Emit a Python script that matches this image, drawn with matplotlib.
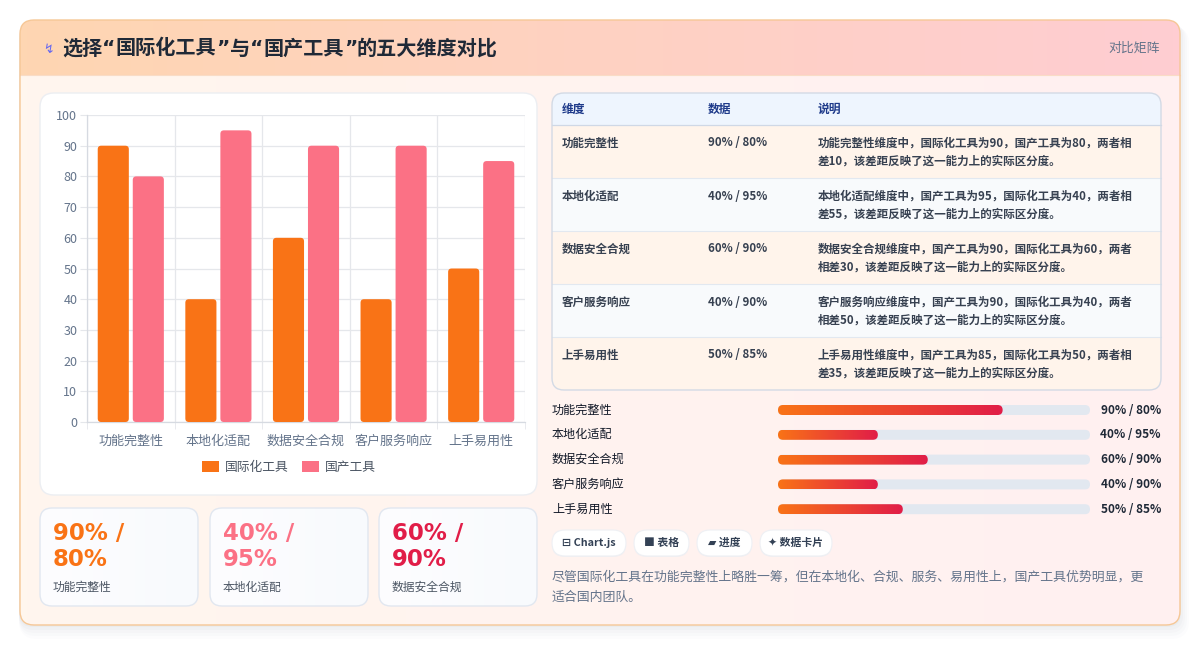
import numpy as np
import matplotlib.pyplot as plt
from matplotlib.patches import FancyBboxPatch, Rectangle
from matplotlib.colors import LinearSegmentedColormap

plt.rcParams['font.family'] = ['Noto Sans CJK SC', 'DejaVu Sans']

# 数据
dims = ['功能完整性', '本地化适配', '数据安全合规', '客户服务响应', '上手易用性']
intl = [90, 40, 60, 40, 50]
local = [80, 95, 90, 90, 85]
series_names = ['国际化工具', '国产工具']
progress = [72, 32, 48, 32, 40]   # 进度条填充(%)
y_ticks = list(range(0, 101, 10))
title_parts = ['选择', '“', '国际化工具', '”', '与', '“', '国产工具', '”', '的五大维度对比']
badge = '对比矩阵'
table_head = ['维度', '数据', '说明']
tags = ['⊟ Chart.js', '■ 表格', '▰ 进度', '✦ 数据卡片']
summary = '尽管国际化工具在功能完整性上略胜一筹，但在本地化、合规、服务、易用性上，国产工具优势明显，更适合国内团队。'

c_orange = '#f97316'
c_pink = '#fb7185'
c_red = '#e11d48'

W, H = 1201, 646
fig = plt.figure(figsize=(W / 100, H / 100), dpi=100)
fig.patch.set_facecolor('white')
renderer = fig.canvas.get_renderer()

# 背景画布，像素坐标
bg = fig.add_axes([0, 0, 1, 1])
bg.axis('off')


def rbox(x, y, w, h, r, fc, ec='none', lw=1, z=1, alpha=1):
    p = FancyBboxPatch((x + r, y + r), w - 2 * r, h - 2 * r,
                       boxstyle=f'round,pad={r}', fc=fc, ec=ec, lw=lw,
                       zorder=z, alpha=alpha)
    bg.add_patch(p)
    return p


def grad(x, y, w, h, c1, c2, clip, z):
    cmap = LinearSegmentedColormap.from_list('g', [c1, c2])
    arr = np.linspace(0, 1, 256).reshape(1, -1)
    im = bg.imshow(arr, cmap=cmap, extent=(x, x + w, y + h, y),
                   aspect='auto', zorder=z, interpolation='bilinear')
    im.set_clip_path(clip)
    return im


def wrap(s, n):
    return [s[i:i + n] for i in range(0, len(s), n)]


# 外框阴影
for i, a in enumerate([0.035, 0.03, 0.025, 0.02, 0.015]):
    rbox(19, 22 + i, 1162 + i * 2, 605 + i * 2, 14 + i,
         fc='#64748b', z=0.2, alpha=a)

# 外框
card = rbox(20, 20, 1160, 605, 14, fc='none', ec='#f6c796', lw=1, z=5)
grad(20, 20, 1160, 605, '#fff6ee', '#fff0f1', card, 1)
grad(20, 20, 1160, 55, '#fed6b2', '#ffcdd2', card, 1.5)
bg.plot([20, 1180], [75, 75], color='#f9dcc6', lw=0.8, zorder=1.6)

bg.text(48, 49, '↯', fontsize=9, color='#6366f1', ha='center', va='center',
        family='DejaVu Sans', zorder=6)
# 标题：引号用窄字体，逐段排列
tx0 = 62
for s in title_parts:
    fam = ['DejaVu Sans'] if s in '“”' else ['Noto Sans CJK SC', 'DejaVu Sans']
    t = bg.text(tx0, 48, s, fontsize=14.5, fontweight='bold', color='#1f2937',
                va='center', family=fam, zorder=6)
    tx0 += t.get_window_extent(renderer).width
bg.text(1160, 48, badge, fontsize=9.3, color='#64748b', ha='right',
        va='center', zorder=6)

# 图表卡片
rbox(40, 93, 497, 402, 14, fc='white', ec='#eceef2', lw=1, z=2)

ax = fig.add_axes([87 / W, (H - 422) / H, 438 / W, 307 / H])
ax.set_facecolor('none')
x = np.arange(len(dims))
bw = 0.355
b1 = ax.bar(x - 0.2, intl, width=bw, color=c_orange, label=series_names[0], zorder=3)
b2 = ax.bar(x + 0.2, local, width=bw, color=c_pink, label=series_names[1], zorder=3)
ax.set_xlim(-0.5, len(dims) - 0.5)
ax.set_ylim(0, 100)

# 圆角柱子：用柱子本身的位置生成圆角矩形
asp = (100 / 307) / (len(dims) / 438)
rs = 3.5 * len(dims) / 438
for bars in (b1, b2):
    for rect in bars:
        fb = FancyBboxPatch((rect.get_x(), rect.get_y()), rect.get_width(),
                            rect.get_height(),
                            boxstyle=f'round,pad=0,rounding_size={rs}',
                            mutation_aspect=asp, fc=rect.get_facecolor(),
                            ec='none', zorder=3)
        ax.add_patch(fb)
        rect.set_visible(False)

ax.set_yticks(y_ticks)
ax.set_xticks(x)
ax.set_xticklabels(dims)
ax.set_xticks(np.arange(-0.5, len(dims), 1), minor=True)
ax.grid(axis='y', color='#e5e7eb', lw=0.9, zorder=0)
ax.grid(axis='x', which='minor', color='#e5e7eb', lw=0.9, zorder=0)
ax.tick_params(axis='y', length=5, color='#e5e7eb', labelsize=9,
               labelcolor='#64748b', pad=2)
ax.tick_params(axis='x', which='major', length=0, labelsize=9.4,
               labelcolor='#64748b', pad=9)
ax.tick_params(axis='x', which='minor', length=5, color='#e5e7eb')
for s in ['top', 'right']:
    ax.spines[s].set_visible(False)
for s in ['left', 'bottom']:
    ax.spines[s].set_color('#d6dae1')
    ax.spines[s].set_linewidth(0.9)
leg = ax.legend(handles=[b1, b2], loc='center', bbox_to_anchor=(0.461, -0.147),
                ncol=2, frameon=False, fontsize=9.2, handlelength=1.35,
                handleheight=0.9, handletextpad=0.45, columnspacing=1.0)
for t in leg.get_texts():
    t.set_color('#4b5563')
for hdl, c in zip(leg.legend_handles, [c_orange, c_pink]):
    hdl.set_visible(True)
    hdl.set_facecolor(c)

# 数据卡片
card_colors = [c_orange, c_pink, c_red]
card_x = [40, 210, 379]
for i in range(3):
    cx = card_x[i]
    p = rbox(cx, 508, 158, 98, 12, fc='none', ec='#e1e7f0', lw=1, z=3)
    grad(cx, 508, 158, 98, '#fdfdff', '#f8fafd', p, 2)
    bg.text(cx + 13, 534, f'{intl[i]}% /', fontsize=16.5, fontweight='bold',
            color=card_colors[i], va='center', family='DejaVu Sans', zorder=4)
    bg.text(cx + 13, 560, f'{local[i]}%', fontsize=16.5, fontweight='bold',
            color=card_colors[i], va='center', family='DejaVu Sans', zorder=4)
    bg.text(cx + 13, 587, dims[i], fontsize=8.5, color='#4b5563',
            va='center', zorder=4)

# 表格
tx, ty, tw = 552, 93, 609
hh, rh = 32, 53
th = hh + rh * len(dims)
tbl = rbox(tx, ty, tw, th, 12, fc='none', ec='#d3dae5', lw=1, z=4)
r = Rectangle((tx, ty), tw, hh, fc='#eef5fe', ec='none', zorder=2)
bg.add_patch(r)
r.set_clip_path(tbl)
bg.plot([tx, tx + tw], [ty + hh, ty + hh], color='#cfd8e6', lw=0.9, zorder=3)
col_x = [562, 708, 818]
for j, h in enumerate(table_head):
    bg.text(col_x[j], ty + hh / 2, h, fontsize=8.5, fontweight='bold',
            color='#1e3a8a', va='center', zorder=5)
for i, d in enumerate(dims):
    y0 = ty + hh + i * rh
    r = Rectangle((tx, y0), tw, rh, fc='#fff4eb' if i % 2 == 0 else '#f8fafc',
                  ec='none', zorder=2)
    bg.add_patch(r)
    r.set_clip_path(tbl)
    if i > 0:
        bg.plot([tx, tx + tw], [y0, y0], color='#e2e8f0', lw=0.8, zorder=3)
    a, b = intl[i], local[i]
    if a >= b:
        desc = f'{d}维度中，国际化工具为{a}，国产工具为{b}，两者相差{abs(a - b)}，该差距反映了这一能力上的实际区分度。'
    else:
        desc = f'{d}维度中，国产工具为{b}，国际化工具为{a}，两者相差{abs(a - b)}，该差距反映了这一能力上的实际区分度。'
    bg.text(col_x[0], y0 + 18, d, fontsize=8.3, fontweight='bold',
            color='#374151', va='center', zorder=5)
    bg.text(col_x[1], y0 + 18, f'{a}% / {b}%', fontsize=8.3, fontweight='bold',
            color='#374151', va='center', zorder=5)
    for k, line in enumerate(wrap(desc, 29)):
        bg.text(col_x[2], y0 + 18 + k * 18, line, fontsize=8.3,
                fontweight='bold', color='#374151', va='center', zorder=5)

# 进度条
bx, bwid, bh = 778, 312, 10
for i, d in enumerate(dims):
    yc = 410 + i * 24.8
    bg.text(552, yc, d, fontsize=8.7, color='#111827', va='center', zorder=5)
    rbox(bx, yc - bh / 2, bwid, bh, bh / 2, fc='#e2e8f0', z=2)
    fw = bwid * progress[i] / 100
    p = rbox(bx, yc - bh / 2, fw, bh, bh / 2, fc='none', z=3)
    grad(bx, yc - bh / 2, fw, bh, c_orange, c_red, p, 3)
    bg.text(1161, yc, f'{intl[i]}% / {local[i]}%', fontsize=8.5,
            fontweight='bold', color='#1f2937', ha='right', va='center', zorder=5)

# 标签
tag_w = [74, 55, 55, 72]
px = 552
for t, w in zip(tags, tag_w):
    rbox(px, 531, w, 26, 13, fc='#e9edf2', z=2, alpha=0.6)
    rbox(px, 530, w, 26, 13, fc='white', ec='#eef0f4', lw=0.8, z=3)
    bg.text(px + w / 2, 543, t, fontsize=7.8, fontweight='bold',
            color='#334155', ha='center', va='center', zorder=4)
    px += w + 8

# 结论文字
for k, line in enumerate(wrap(summary, 46)):
    bg.text(552, 577 + k * 20, line, fontsize=9.3, color='#64748b',
            va='center', zorder=5)

bg.set_xlim(0, W)
bg.set_ylim(H, 0)

plt.savefig('out.png', dpi=100)
